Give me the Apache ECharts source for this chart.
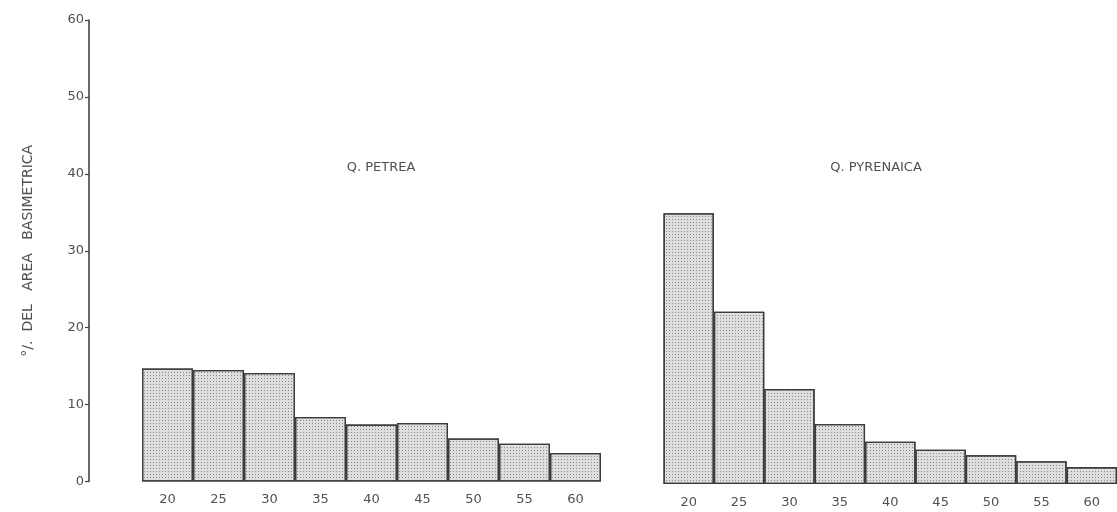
<!DOCTYPE html>
<html>
<head>
<meta charset="utf-8">
<script src="https://cdn.jsdelivr.net/npm/echarts@6/dist/echarts.min.js"></script>
<style>
html,body{margin:0;padding:0;background:#fff;}
#chart{width:1117px;height:512px;}
</style>
</head>
<body>
<div id="chart"></div>
<script>
// Diameter classes (cm)
var categories = ['20','25','30','35','40','45','50','55','60'];
// % of basal area per diameter class
var petreaValues = [14.7, 14.5, 14.1, 8.4, 7.4, 7.6, 5.6, 4.9, 3.7];
var pyrenaicaValues = [35.2, 22.4, 12.35, 7.8, 5.5, 4.45, 3.75, 2.95, 2.2];
var yTicks = [0, 10, 20, 30, 40, 50, 60];
var panelTitles = ['Q. PETREA', 'Q. PYRENAICA'];
var yAxisTitle = '°/.  DEL   AREA   BASIMETRICA';

var chart = echarts.init(document.getElementById('chart'), null, {renderer: 'canvas'});
var textColor = '#505050';
var font = 'DejaVu Sans';

var barStyle = {
  color: '#dedede',
  borderColor: '#3c3c3c',
  borderWidth: 1.3,
  decal: {
    symbol: 'rect',
    symbolSize: 1,
    dashArrayX: [1, 2],
    dashArrayY: [1, 2],
    color: 'rgba(80,80,80,0.6)'
  }
};

var xAxisCommon = {
  type: 'category',
  data: categories,
  axisLine: {show: false},
  axisTick: {show: false},
  axisLabel: {color: textColor, fontFamily: font, fontSize: 13, margin: 12},
  splitLine: {show: false}
};

var option = {
  backgroundColor: '#ffffff',
  animation: false,
  grid: [
    {left: 142, width: 459, top: 20, height: 461.5},
    {left: 663.5, width: 458, top: 22.5, height: 461.5}
  ],
  xAxis: [
    Object.assign({gridIndex: 0}, xAxisCommon),
    Object.assign({gridIndex: 1}, xAxisCommon)
  ],
  yAxis: [
    {
      gridIndex: 0,
      type: 'value',
      min: yTicks[0],
      max: yTicks[yTicks.length - 1],
      interval: yTicks[1] - yTicks[0],
      offset: 53,
      axisLine: {show: true, lineStyle: {color: '#444', width: 1.6}},
      axisTick: {show: true, length: 4, lineStyle: {color: '#444', width: 1.2}},
      axisLabel: {color: textColor, fontFamily: font, fontSize: 13, margin: 5},
      splitLine: {show: false},
      name: yAxisTitle,
      nameLocation: 'middle',
      nameRotate: 90,
      nameGap: 54,
      nameTextStyle: {color: textColor, fontFamily: font, fontSize: 14}
    },
    {
      gridIndex: 1,
      type: 'value',
      min: yTicks[0],
      max: yTicks[yTicks.length - 1],
      interval: yTicks[1] - yTicks[0],
      show: false,
      splitLine: {show: false}
    }
  ],
  series: [
    {
      type: 'bar',
      xAxisIndex: 0,
      yAxisIndex: 0,
      data: petreaValues,
      barCategoryGap: '0%',
      itemStyle: barStyle
    },
    {
      type: 'bar',
      xAxisIndex: 1,
      yAxisIndex: 1,
      data: pyrenaicaValues,
      barCategoryGap: '0%',
      itemStyle: barStyle
    }
  ],
  graphic: [
    {type: 'text', x: 381, y: 168, style: {text: panelTitles[0], fill: textColor, font: '13px "DejaVu Sans"', align: 'center', verticalAlign: 'middle'}},
    {type: 'text', x: 876, y: 168, style: {text: panelTitles[1], fill: textColor, font: '13px "DejaVu Sans"', align: 'center', verticalAlign: 'middle'}}
  ]
};
chart.setOption(option);
</script>
</body>
</html>
